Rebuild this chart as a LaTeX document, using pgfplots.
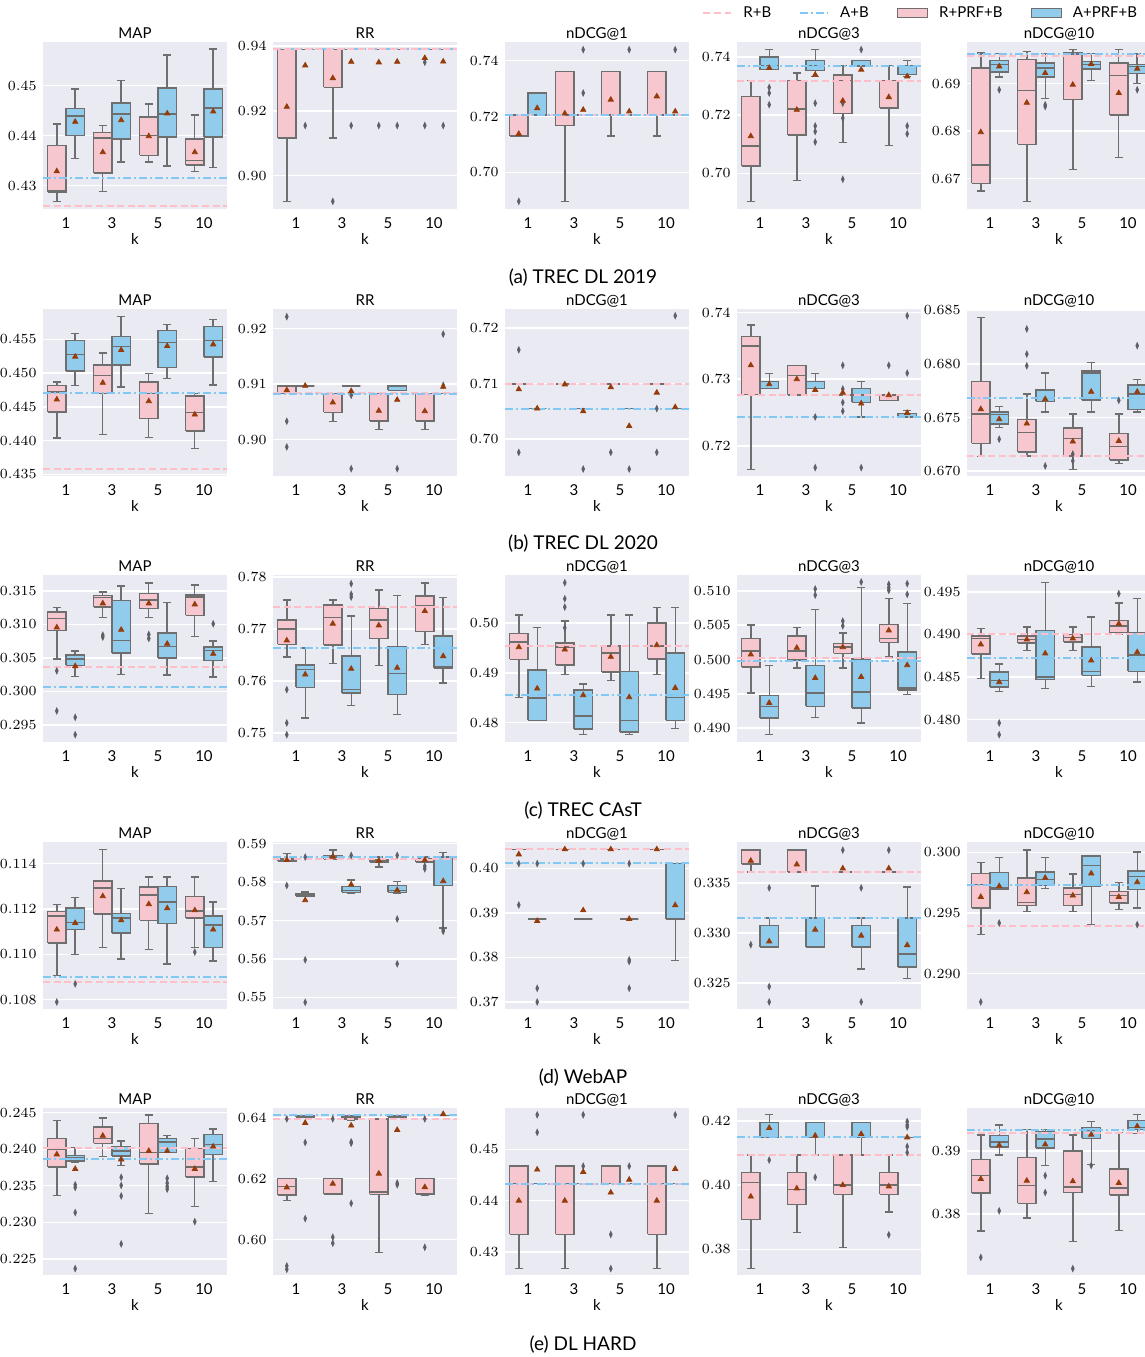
\documentclass[border=0pt]{standalone}
\usepackage{fontspec}
\setsansfont{Lato}
\usepackage{pgfplots}
\pgfplotsset{compat=1.18}
\definecolor{bgc}{RGB}{234,234,242}
\definecolor{pinkbox}{RGB}{246,199,207}
\definecolor{bluebox}{RGB}{146,204,236}
\definecolor{pinkl}{RGB}{255,190,200}
\definecolor{bluel}{RGB}{130,200,245}
\definecolor{edgec}{RGB}{110,110,110}
\definecolor{meanc}{RGB}{150,60,10}
\definecolor{outc}{RGB}{95,95,105}
\newcommand{\fs}{\fontsize{7.5}{8}\selectfont}
\pgfplotsset{
 sub/.style={scale only axis, width=92pt, height=83.5pt, anchor=south west,
   xmin=-0.5, xmax=3.5, xtick={0,1,2,3}, xticklabels={1,3,5,10},
   axis background/.style={fill=bgc}, axis line style={draw=none}, tick style={draw=none}, major tick length=0pt,
   ymajorgrids, grid style={white, line width=0.7pt},
   xlabel={k}, xlabel style={font=\sffamily\fs, inner sep=0pt, at={(axis description cs:0.5,0)}, anchor=north, yshift=-12pt},
   xticklabel style={font=\sffamily\fs, inner sep=0pt}, xticklabel shift=4pt,
   yticklabel style={font=\fs, inner sep=0pt}, yticklabel shift=3pt,
   every axis title shift=0pt,
   title style={font=\sffamily\fs, inner sep=0pt, at={(0.5,1)}, anchor=base, yshift=1.8pt},
   unbounded coords=jump,
 },
 yp/.style={yticklabel style={/pgf/number format/.cd, fixed, fixed zerofill, precision=#1}},
 boxln/.style={draw=edgec, line width=0.7pt, solid, mark=none},
 pline/.style={pinkl, line width=1pt, dash pattern=on 3.5pt off 1.8pt},
 bline/.style={bluel, line width=1pt, dash pattern=on 4pt off 1.5pt on 1pt off 1.5pt},
 meanst/.style={only marks, mark=triangle*, mark size=1.5pt, color=meanc},
 outst/.style={only marks, mark=diamond*, mark size=1.5pt, color=outc, mark options={xscale=0.6}},
 lleg/.style={legend image code/.code={\draw[##1] (0pt,0pt) -- (14pt,0pt);}},
 aleg/.style={legend image code/.code={\draw[##1] (0pt,-2.25pt) rectangle (15pt,2.25pt);}},
}
% #1 fill colour, #2 position, #3 lower whisker, #4 q1, #5 median, #6 q3, #7 upper whisker
\newcommand{\Bx}[7]{%
 \pgfmathsetmacro\bxL{#2-0.2}\pgfmathsetmacro\bxR{#2+0.2}%
 \pgfmathsetmacro\bcL{#2-0.09}\pgfmathsetmacro\bcR{#2+0.09}%
 \edef\bxtmp{%
 \noexpand\addplot[boxln] coordinates {(#2,#3)(#2,#4)(nan,nan)(#2,#6)(#2,#7)(nan,nan)(\bcL,#3)(\bcR,#3)(nan,nan)(\bcL,#7)(\bcR,#7)};
 \noexpand\addplot[boxln, fill=#1] coordinates {(\bxL,#4)(\bxR,#4)(\bxR,#6)(\bxL,#6)(\bxL,#4)};
 \noexpand\addplot[boxln] coordinates {(\bxL,#5)(\bxR,#5)};}\bxtmp}
\newcommand{\Pb}[6]{\Bx{pinkbox}{#1}{#2}{#3}{#4}{#5}{#6}}
\newcommand{\Bb}[6]{\Bx{bluebox}{#1}{#2}{#3}{#4}{#5}{#6}}
\newcommand{\Pf}[2]{\Pb{#1}{#2}{#2}{#2}{#2}{#2}}
\newcommand{\Bf}[2]{\Bb{#1}{#2}{#2}{#2}{#2}{#2}}
\newcommand{\hlP}[1]{\addplot[pline] coordinates {(-0.5,#1)(3.5,#1)};}
\newcommand{\hlB}[1]{\addplot[bline] coordinates {(-0.5,#1)(3.5,#1)};}
\newcommand{\Mn}[8]{\addplot[meanst] coordinates {(-0.2,#1)(0.2,#2)(0.8,#3)(1.2,#4)(1.8,#5)(2.2,#6)(2.8,#7)(3.2,#8)};}
\newcommand{\Ou}[1]{\addplot[outst] coordinates {#1};}
\begin{document}
\begin{tikzpicture}
%%%%%%%%%%%%%%%% ROW 1
\begin{axis}[sub, at={(21.5pt,-104.5pt)}, title={MAP}, ymin=0.42532, ymax=0.45876, ytick={0.43,0.44,0.45}, yp=2]
\Pb{-0.2}{0.42686}{0.42873}{0.42893}{0.43803}{0.44231}
\Bb{0.2}{0.43542}{0.44003}{0.44391}{0.44545}{0.44933}
\Pb{0.8}{0.4288}{0.43254}{0.43957}{0.4407}{0.44204}
\Bb{1.2}{0.43475}{0.4393}{0.44431}{0.44652}{0.451}
\Pb{1.8}{0.43475}{0.43609}{0.44003}{0.44378}{0.44632}
\Bb{2.2}{0.43395}{0.43977}{0.44431}{0.44953}{0.45615}
\Pb{2.8}{0.43288}{0.43415}{0.43502}{0.4393}{0.44411}
\Bb{3.2}{0.43368}{0.43977}{0.44552}{0.44933}{0.45736}
\hlB{0.4316}\hlP{0.42585}
\Mn{0.43288}{0.44278}{0.43669}{0.44311}{0.4399}{0.44445}{0.43669}{0.44485}
\end{axis}
\begin{axis}[sub, at={(136.5pt,-104.5pt)}, title={RR}, ymin=0.8897, ymax=0.94124, ytick={0.90,0.92,0.94}, yp=2]
\Pb{-0.2}{0.89206}{0.91165}{0.939}{0.939}{0.939}
\Bf{0.2}{0.939}
\Pb{0.8}{0.91165}{0.92722}{0.939}{0.939}{0.939}
\Bf{1.2}{0.939}\Pf{1.8}{0.939}\Bf{2.2}{0.939}\Pf{2.8}{0.939}\Bf{3.2}{0.939}
\hlB{0.93907}\hlP{0.93897}
\Ou{(0.2,0.91546)(0.8,0.89206)(1.2,0.91546)(1.8,0.91546)(2.2,0.91546)(2.8,0.91546)(2.8,0.935)(3.2,0.91546)}
\Mn{0.92124}{0.9340}{0.9301}{0.93515}{0.93495}{0.93515}{0.93629}{0.9352}
\end{axis}
\begin{axis}[sub, at={(252.5pt,-104.5pt)}, title={nDCG@1}, ymin=0.68693, ymax=0.74663, ytick={0.70,0.72,0.74}, yp=2]
\Pb{-0.2}{0.713}{0.713}{0.713}{0.7206}{0.7206}
\Bb{0.2}{0.7206}{0.7206}{0.7206}{0.72836}{0.72836}
\Pb{0.8}{0.6897}{0.71678}{0.7206}{0.73612}{0.73612}
\Bf{1.2}{0.7206}
\Pb{1.8}{0.713}{0.7206}{0.7206}{0.73612}{0.73612}
\Bf{2.2}{0.7206}
\Pb{2.8}{0.713}{0.7206}{0.7206}{0.73612}{0.73612}
\Bf{3.2}{0.7206}
\hlP{0.7207}\hlB{0.7205}
\Ou{(-0.2,0.68967)(1.2,0.7439)(1.2,0.7284)(2.2,0.7439)(3.2,0.7439)}
\Mn{0.71379}{0.72299}{0.72107}{0.7224}{0.726}{0.7218}{0.7272}{0.7218}
\end{axis}
\begin{axis}[sub, at={(368.5pt,-104.5pt)}, title={nDCG@3}, ymin=0.6878, ymax=0.7451, ytick={0.70,0.72,0.74}, yp=2]
\Pb{-0.2}{0.69043}{0.70258}{0.70946}{0.72642}{0.7318}
\Bb{0.2}{0.7356}{0.7356}{0.737}{0.7399}{0.7425}
\Pb{0.8}{0.69765}{0.71324}{0.72218}{0.7318}{0.73444}
\Bb{1.2}{0.7333}{0.73524}{0.737}{0.73868}{0.74246}
\Pb{1.8}{0.7106}{0.72057}{0.7318}{0.73375}{0.737}
\Bb{2.2}{0.7367}{0.7367}{0.737}{0.7388}{0.7388}
\Pb{2.8}{0.70957}{0.7224}{0.7224}{0.7318}{0.737}
\Bb{3.2}{0.7333}{0.7339}{0.7339}{0.737}{0.7387}
\hlB{0.737}\hlP{0.7318}
\Ou{(0.2,0.7295)(0.2,0.7276)(0.2,0.7236)(1.2,0.7241)(1.2,0.7163)(1.2,0.7144)(1.2,0.7108)(1.8,0.7241)(1.8,0.719)(1.8,0.698)(2.2,0.7425)(3.2,0.7163)(3.2,0.7136)}
\Mn{0.71278}{0.7362}{0.72183}{0.73387}{0.72493}{0.7356}{0.72619}{0.7333}
\end{axis}
\begin{axis}[sub, at={(483.5pt,-104.5pt)}, title={nDCG@10}, ymin=0.66359, ymax=0.6988, ytick={0.67,0.68,0.69}, yp=2,
  legend columns=4, legend style={at={(-1.4402,1.1719)}, anchor=west, draw=none, fill=none, inner sep=0pt, font=\sffamily\fs, nodes={inner sep=0pt}, /tikz/every odd column/.append style={column sep=5.5pt}, /tikz/every even column/.append style={column sep=14pt}}, legend cell align=left]
\addlegendimage{pline, lleg}\addlegendentry{R+B}
\addlegendimage{bline, lleg}\addlegendentry{A+B}
\addlegendimage{aleg, fill=pinkbox, draw=edgec, line width=0.7pt}\addlegendentry{R+PRF+B}
\addlegendimage{aleg, fill=bluebox, draw=edgec, line width=0.7pt}\addlegendentry{A+PRF+B}
\Pb{-0.2}{0.6674}{0.66901}{0.67289}{0.69331}{0.69648}
\Bb{0.2}{0.6914}{0.69246}{0.69401}{0.69486}{0.69634}
\Pb{0.8}{0.66514}{0.67725}{0.68852}{0.69507}{0.69683}
\Bb{1.2}{0.68683}{0.6914}{0.69331}{0.69437}{0.69634}
\Pb{1.8}{0.67197}{0.68662}{0.69613}{0.69648}{0.69718}
\Bb{2.2}{0.6907}{0.6931}{0.69401}{0.69472}{0.69634}
\Pb{2.8}{0.67451}{0.68338}{0.69169}{0.69437}{0.69718}
\Bb{3.2}{0.69}{0.69211}{0.69366}{0.69401}{0.69634}
\hlB{0.69634}\hlP{0.69577}
\Ou{(0.2,0.68873)(1.2,0.68556)(1.2,0.6852)(3.2,0.68873)}
\Mn{0.67979}{0.69366}{0.68599}{0.69225}{0.68979}{0.69415}{0.68803}{0.69317}
\end{axis}
%%%%%%%%%%%%%%%% ROW 2
\begin{axis}[sub, at={(21.5pt,-238pt)}, title={MAP}, ymin=0.43475, ymax=0.4595, ytick={0.435,0.44,0.445,0.45,0.455}, yp=3]
\Pb{-0.2}{0.4404}{0.44421}{0.44723}{0.44817}{0.44871}
\Bb{0.2}{0.44812}{0.4503}{0.45277}{0.4548}{0.45584}
\Pb{0.8}{0.4409}{0.44698}{0.44965}{0.45119}{0.45297}
\Bb{1.2}{0.44792}{0.45119}{0.45391}{0.4554}{0.45837}
\Pb{1.8}{0.4405}{0.44327}{0.447}{0.44871}{0.4499}
\Bb{2.2}{0.44916}{0.45079}{0.45455}{0.45634}{0.45718}
\Pb{2.8}{0.43881}{0.44144}{0.44416}{0.44663}{0.44698}
\Bb{3.2}{0.44822}{0.45238}{0.4548}{0.45688}{0.45797}
\hlB{0.44698}\hlP{0.43584}
\Mn{0.44609}{0.45243}{0.44856}{0.45342}{0.44584}{0.45401}{0.44386}{0.45426}
\end{axis}
\begin{axis}[sub, at={(136.5pt,-238pt)}, title={RR}, ymin=0.89348, ymax=0.92351, ytick={0.90,0.91,0.92}, yp=2]
\Pb{-0.2}{0.9083}{0.9083}{0.9097}{0.9097}{0.9097}
\Bf{0.2}{0.9097}
\Pb{0.8}{0.90333}{0.90495}{0.9083}{0.9083}{0.9083}
\Bf{1.2}{0.9097}
\Pb{1.8}{0.90189}{0.90339}{0.9083}{0.9083}{0.9083}
\Bb{2.2}{0.9089}{0.9089}{0.9089}{0.9097}{0.9097}
\Pb{2.8}{0.90189}{0.90339}{0.9083}{0.9083}{0.9083}
\Bf{3.2}{0.9083}
\hlP{0.9084}\hlB{0.9082}
\Ou{(-0.2,0.92213)(-0.2,0.90333)(-0.2,0.89871)(1.2,0.908)(1.2,0.8948)(2.2,0.8948)(3.2,0.919)(3.2,0.9098)}
\Mn{0.90892}{0.9097}{0.9067}{0.90874}{0.9052}{0.90718}{0.90514}{0.90952}
\end{axis}
\begin{axis}[sub, at={(252.5pt,-238pt)}, title={nDCG@1}, ymin=0.69334, ymax=0.72343, ytick={0.70,0.71,0.72}, yp=2]
\Pf{-0.2}{0.7099}\Bf{0.2}{0.7055}\Pf{0.8}{0.7099}\Bf{1.2}{0.7055}
\Pf{1.8}{0.7099}\Bf{2.2}{0.7055}\Pf{2.8}{0.7099}\Bf{3.2}{0.7055}
\hlP{0.7099}\hlB{0.7055}
\Ou{(-0.2,0.71608)(-0.2,0.6976)(1.2,0.6946)(1.8,0.6976)(2.2,0.6946)(2.8,0.7055)(2.8,0.6976)(3.2,0.72222)}
\Mn{0.70897}{0.7055}{0.70985}{0.705}{0.70933}{0.70234}{0.70836}{0.70574}
\end{axis}
\begin{axis}[sub, at={(368.5pt,-238pt)}, title={nDCG@3}, ymin=0.71547, ymax=0.74053, ytick={0.72,0.73,0.74}, yp=2]
\Pb{-0.2}{0.71648}{0.72772}{0.73496}{0.73638}{0.73815}
\Bb{0.2}{0.72863}{0.72863}{0.72863}{0.72965}{0.73081}
\Pb{0.8}{0.7276}{0.7276}{0.73056}{0.73203}{0.73203}
\Bb{1.2}{0.72863}{0.72863}{0.72965}{0.72965}{0.73081}
\Pf{1.8}{0.7276}
\Bb{2.2}{0.72433}{0.72651}{0.7276}{0.72863}{0.72965}
\Pb{2.8}{0.72676}{0.72676}{0.7276}{0.7276}{0.7276}
\Bb{3.2}{0.72433}{0.72433}{0.72433}{0.72484}{0.72534}
\hlP{0.72762}\hlB{0.72433}
\Ou{(1.2,0.72433)(1.2,0.71673)(1.8,0.73208)(1.8,0.72853)(1.8,0.7265)(1.8,0.7252)(2.2,0.71673)(2.8,0.73208)(3.2,0.73952)(3.2,0.73091)}
\Mn{0.73208}{0.72924}{0.73}{0.72838}{0.72797}{0.72635}{0.7276}{0.72494}
\end{axis}
\begin{axis}[sub, at={(483.5pt,-238pt)}, title={nDCG@10}, ymin=0.66955, ymax=0.68511, ytick={0.67,0.675,0.68,0.685}, yp=3]
\Pb{-0.2}{0.67136}{0.6726}{0.67534}{0.67833}{0.68433}
\Bb{0.2}{0.67407}{0.67438}{0.6753}{0.67553}{0.676}
\Pb{0.8}{0.67142}{0.6718}{0.6736}{0.67484}{0.67718}
\Bb{1.2}{0.67553}{0.67652}{0.67652}{0.67758}{0.67914}
\Pb{1.8}{0.67018}{0.67142}{0.67304}{0.67404}{0.67531}
\Bb{2.2}{0.67553}{0.67665}{0.67914}{0.67932}{0.68013}
\Pb{2.8}{0.67074}{0.67105}{0.67229}{0.67351}{0.67531}
\Bb{3.2}{0.67553}{0.67572}{0.67718}{0.67802}{0.67852}
\hlB{0.6768}\hlP{0.67142}
\Ou{(0.2,0.67298)(0.8,0.68325)(0.8,0.68091)(0.8,0.67982)(1.2,0.67049)(1.8,0.6716)(1.8,0.67096)(2.8,0.6766)(3.2,0.68169)}
\Mn{0.67578}{0.67484}{0.67444}{0.67671}{0.67276}{0.6774}{0.67282}{0.6774}
\end{axis}
%%%%%%%%%%%%%%%% ROW 3
\begin{axis}[sub, at={(21.5pt,-371pt)}, title={MAP}, ymin=0.29244, ymax=0.31738, ytick={0.295,0.3,0.305,0.31,0.315}, yp=3]
\Pb{-0.2}{0.30481}{0.30905}{0.3109}{0.31185}{0.31249}
\Bb{0.2}{0.30222}{0.30387}{0.30486}{0.30546}{0.30601}
\Pb{0.8}{0.3110}{0.31259}{0.31399}{0.31434}{0.31484}
\Bb{1.2}{0.30252}{0.30576}{0.30761}{0.31359}{0.31574}
\Pb{1.8}{0.311}{0.31234}{0.31364}{0.31459}{0.31618}
\Bb{2.2}{0.30242}{0.30501}{0.30666}{0.3087}{0.31324}
\Pb{2.8}{0.3082}{0.31135}{0.31409}{0.31439}{0.31589}
\Bb{3.2}{0.30212}{0.30461}{0.30611}{0.30661}{0.30751}
\hlP{0.30362}\hlB{0.30072}
\Ou{(-0.2,0.30307)(-0.2,0.29708)(0.2,0.29613)(0.2,0.29354)(0.8,0.3084)(0.8,0.3081)(1.8,0.3085)(1.8,0.3079)(3.2,0.3101)}
\Mn{0.30955}{0.30377}{0.31314}{0.3092}{0.31314}{0.30711}{0.31299}{0.30561}
\end{axis}
\begin{axis}[sub, at={(136.5pt,-371pt)}, title={RR}, ymin=0.74829, ymax=0.7804, ytick={0.75,0.76,0.77,0.78}, yp=2]
\Pb{-0.2}{0.76467}{0.76705}{0.77}{0.77173}{0.77559}
\Bb{0.2}{0.75292}{0.75882}{0.76223}{0.76306}{0.7664}
\Pb{0.8}{0.76338}{0.76692}{0.77218}{0.77462}{0.77559}
\Bb{1.2}{0.75529}{0.75773}{0.75837}{0.76486}{0.7725}
\Pb{1.8}{0.763}{0.76814}{0.77173}{0.77392}{0.77751}
\Bb{2.2}{0.75356}{0.75741}{0.76152}{0.76666}{0.77642}
\Pb{2.8}{0.76705}{0.76949}{0.77456}{0.77636}{0.77886}
\Bb{3.2}{0.75966}{0.76255}{0.76274}{0.76865}{0.77604}
\hlP{0.77417}\hlB{0.7664}
\Ou{(-0.2,0.75837)(-0.2,0.75195)(-0.2,0.7497)(1.2,0.77617)(1.2,0.7767)(1.2,0.77873)}
\Mn{0.76782}{0.76127}{0.77103}{0.76236}{0.77071}{0.76255}{0.77347}{0.7648}
\end{axis}
\begin{axis}[sub, at={(252.5pt,-371pt)}, title={nDCG@1}, ymin=0.47615, ymax=0.5096, ytick={0.48,0.49,0.50}, yp=2]
\Pb{-0.2}{0.48512}{0.49268}{0.49622}{0.49783}{0.50157}
\Bb{0.2}{0.4805}{0.4805}{0.48498}{0.4906}{0.49903}
\Pb{0.8}{0.48967}{0.49154}{0.49515}{0.49602}{0.50037}
\Bb{1.2}{0.47763}{0.47876}{0.48137}{0.48659}{0.48779}
\Pb{1.8}{0.48853}{0.4902}{0.49401}{0.49535}{0.50157}
\Bb{2.2}{0.47763}{0.47816}{0.4805}{0.49033}{0.50157}
\Pb{2.8}{0.48967}{0.49281}{0.49535}{0.49997}{0.50304}
\Bb{3.2}{0.47883}{0.4805}{0.48512}{0.49395}{0.50304}
\hlP{0.49535}\hlB{0.48552}
\Ou{(0.8,0.49903)(0.8,0.50318)(0.8,0.50485)(0.8,0.50806)}
\Mn{0.49515}{0.48686}{0.49468}{0.48552}{0.49321}{0.48512}{0.49555}{0.48699}
\end{axis}
\begin{axis}[sub, at={(368.5pt,-371pt)}, title={nDCG@3}, ymin=0.48798, ymax=0.51231, ytick={0.49,0.495,0.5,0.505,0.51}, yp=3]
\Pb{-0.2}{0.49513}{0.49893}{0.50122}{0.50307}{0.50501}
\Bb{0.2}{0.48905}{0.49148}{0.49319}{0.49479}{0.49917}
\Pb{0.8}{0.49878}{0.49995}{0.50122}{0.50345}{0.50462}
\Bb{1.2}{0.49158}{0.49319}{0.49513}{0.49917}{0.50725}
\Pb{1.8}{0.49878}{0.50088}{0.5018}{0.50229}{0.50384}
\Bb{2.2}{0.49075}{0.49294}{0.49528}{0.5001}{0.51046}
\Pb{2.8}{0.50039}{0.50248}{0.50307}{0.50511}{0.50886}
\Bb{3.2}{0.49489}{0.49557}{0.49586}{0.50112}{0.50813}
\hlP{0.50019}\hlB{0.49976}
\Ou{(1.2,0.51027)(1.2,0.50939)(1.8,0.5056)(1.8,0.50491)(2.2,0.51129)(2.8,0.51095)(2.8,0.51046)(2.8,0.51007)(3.2,0.51105)(3.2,0.50949)}
\Mn{0.50073}{0.49367}{0.5017}{0.49732}{0.5018}{0.49747}{0.50423}{0.49917}
\end{axis}
\begin{axis}[sub, at={(483.5pt,-371pt)}, title={nDCG@10}, ymin=0.47739, ymax=0.49697, ytick={0.48,0.485,0.49,0.495}, yp=3]
\Pb{-0.2}{0.48483}{0.48773}{0.48953}{0.4898}{0.4907}
\Bb{0.2}{0.48334}{0.48385}{0.4846}{0.48561}{0.48655}
\Pb{0.8}{0.48812}{0.48902}{0.48941}{0.4898}{0.49086}
\Bb{1.2}{0.48366}{0.48471}{0.48499}{0.49047}{0.49607}
\Pb{1.8}{0.48812}{0.4891}{0.48961}{0.49}{0.49086}
\Bb{2.2}{0.48393}{0.48522}{0.48569}{0.48851}{0.49204}
\Pb{2.8}{0.49}{0.4902}{0.49098}{0.49164}{0.49368}
\Bb{3.2}{0.48444}{0.48569}{0.48757}{0.4902}{0.49423}
\hlP{0.49}\hlB{0.48726}
\Ou{(0.2,0.47962)(0.2,0.47825)(2.8,0.49478)}
\Mn{0.48883}{0.4844}{0.48941}{0.48777}{0.48953}{0.48695}{0.49125}{0.48792}
\end{axis}
%%%%%%%%%%%%%%%% ROW 4
\begin{axis}[sub, at={(21.5pt,-504.5pt)}, title={MAP}, ymin=0.10759, ymax=0.11495, ytick={0.108,0.11,0.112,0.114}, yp=3]
\Pb{-0.2}{0.10908}{0.1105}{0.11169}{0.1119}{0.11219}
\Bb{0.2}{0.1100}{0.1111}{0.1114}{0.11204}{0.1125}
\Pb{0.8}{0.1103}{0.11178}{0.11293}{0.11324}{0.11461}
\Bb{1.2}{0.10979}{0.11094}{0.1116}{0.11179}{0.1129}
\Pb{1.8}{0.1102}{0.1115}{0.11262}{0.11296}{0.11341}
\Bb{2.2}{0.10958}{0.11135}{0.11231}{0.1130}{0.11341}
\Pb{2.8}{0.1103}{0.1116}{0.11191}{0.11255}{0.11341}
\Bb{3.2}{0.1097}{0.1103}{0.11129}{0.11169}{0.11231}
\hlB{0.10902}\hlP{0.1088}
\Ou{(-0.2,0.1079)(0.2,0.1087)(2.8,0.1101)}
\Mn{0.11109}{0.11138}{0.11256}{0.1115}{0.11221}{0.11203}{0.11194}{0.11109}
\end{axis}
\begin{axis}[sub, at={(136.5pt,-504.5pt)}, title={RR}, ymin=0.54697, ymax=0.59046, ytick={0.55,0.56,0.57,0.58,0.59}, yp=2]
\Pb{-0.2}{0.5855}{0.5855}{0.58575}{0.5861}{0.5874}
\Bb{0.2}{0.57643}{0.57643}{0.57669}{0.57704}{0.57747}
\Pb{0.8}{0.58593}{0.58593}{0.58654}{0.58697}{0.58837}
\Bb{1.2}{0.57704}{0.57739}{0.57791}{0.57895}{0.5806}
\Pb{1.8}{0.58392}{0.58523}{0.5855}{0.58593}{0.58654}
\Bb{2.2}{0.57721}{0.57739}{0.57782}{0.57913}{0.58017}
\Pb{2.8}{0.58523}{0.58523}{0.5861}{0.5861}{0.58654}
\Bb{3.2}{0.56806}{0.57913}{0.57913}{0.58654}{0.58767}
\hlB{0.58654}\hlP{0.5861}
\Ou{(-0.2,0.57913)(0.2,0.58654)(0.2,0.55978)(0.2,0.54871)(1.2,0.58697)(2.2,0.58697)(2.2,0.57041)(2.2,0.55874)(2.8,0.58418)(2.8,0.58349)(3.2,0.56763)(3.2,0.5672)}
\Mn{0.58575}{0.5753}{0.58662}{0.57939}{0.58558}{0.57791}{0.58575}{0.58026}
\end{axis}
\begin{axis}[sub, at={(252.5pt,-504.5pt)}, title={nDCG@1}, ymin=0.36842, ymax=0.40594, ytick={0.37,0.38,0.39,0.40}, yp=2]
\Pf{-0.2}{0.4043}\Bf{0.2}{0.38865}\Pf{0.8}{0.4043}\Bf{1.2}{0.38865}
\Pf{1.8}{0.4043}\Bf{2.2}{0.38865}\Pf{2.8}{0.4043}
\Bb{3.2}{0.37932}{0.38865}{0.38865}{0.40113}{0.40113}
\hlP{0.40429}\hlB{0.40113}
\Ou{(-0.2,0.4011)(-0.2,0.3918)(0.2,0.4011)(0.2,0.37308)(0.2,0.37)(1.2,0.4011)(2.2,0.4011)(2.2,0.37947)(2.2,0.3791)(2.2,0.37308)}
\Mn{0.40316}{0.3882}{0.4043}{0.3906}{0.4043}{0.38865}{0.4043}{0.39173}
\end{axis}
\begin{axis}[sub, at={(368.5pt,-504.5pt)}, title={nDCG@3}, ymin=0.32238, ymax=0.33913, ytick={0.325,0.33,0.335}, yp=3]
\Pb{-0.2}{0.33614}{0.33688}{0.3370}{0.33832}{0.33832}
\Bb{0.2}{0.32859}{0.32859}{0.32859}{0.33074}{0.33151}
\Pb{0.8}{0.33614}{0.33614}{0.33614}{0.33832}{0.33832}
\Bb{1.2}{0.32859}{0.32859}{0.33151}{0.33151}{0.3347}
\Pf{1.8}{0.33614}
\Bb{2.2}{0.32638}{0.32859}{0.32859}{0.33074}{0.33151}
\Pf{2.8}{0.33614}
\Bb{3.2}{0.32547}{0.32658}{0.32789}{0.33151}{0.33463}
\hlP{0.33614}\hlB{0.33151}
\Ou{(-0.2,0.32883)(0.2,0.33453)(0.2,0.32463)(0.2,0.32309)(1.8,0.33832)(2.2,0.33453)(2.2,0.32309)(2.8,0.33832)}
\Mn{0.33725}{0.32916}{0.33688}{0.33034}{0.33648}{0.32973}{0.33648}{0.32879}
\end{axis}
\begin{axis}[sub, at={(483.5pt,-504.5pt)}, title={nDCG@10}, ymin=0.28709, ymax=0.30084, ytick={0.29,0.295,0.3}, yp=3]
\Pb{-0.2}{0.29321}{0.29541}{0.29734}{0.29825}{0.29913}
\Bb{0.2}{0.29693}{0.29693}{0.29707}{0.29831}{0.29955}
\Pb{0.8}{0.29514}{0.29561}{0.29588}{0.29789}{0.30018}
\Bb{1.2}{0.29701}{0.29726}{0.29775}{0.29836}{0.29955}
\Pb{1.8}{0.29514}{0.29561}{0.29652}{0.29707}{0.29822}
\Bb{2.2}{0.29404}{0.2972}{0.29891}{0.29968}{0.29968}
\Pb{2.8}{0.29528}{0.29583}{0.29643}{0.29679}{0.29753}
\Bb{3.2}{0.29541}{0.29693}{0.29798}{0.29844}{0.30001}
\hlB{0.29734}\hlP{0.29395}
\Ou{(-0.2,0.28767)(0.2,0.29417)(3.2,0.29404)}
\Mn{0.29632}{0.2972}{0.29671}{0.29789}{0.29643}{0.29825}{0.29632}{0.29753}
\end{axis}
%%%%%%%%%%%%%%%% ROW 5
\begin{axis}[sub, at={(21.5pt,-637.5pt)}, title={MAP}, ymin=0.22278, ymax=0.24565, ytick={0.225,0.23,0.235,0.24,0.245}, yp=3]
\Pb{-0.2}{0.2337}{0.23759}{0.24}{0.24148}{0.24398}
\Bb{0.2}{0.23824}{0.23838}{0.23884}{0.23917}{0.24023}
\Pb{0.8}{0.23898}{0.24083}{0.24148}{0.24306}{0.2443}
\Bb{1.2}{0.23778}{0.23907}{0.23977}{0.24037}{0.24111}
\Pb{1.8}{0.2312}{0.23801}{0.23954}{0.24356}{0.24472}
\Bb{2.2}{0.23954}{0.23954}{0.24102}{0.24148}{0.24185}
\Pb{2.8}{0.23213}{0.2362}{0.23755}{0.24014}{0.24148}
\Bb{3.2}{0.2356}{0.23926}{0.24069}{0.24204}{0.24278}
\hlP{0.24019}\hlB{0.2387}
\Ou{(0.2,0.23514)(0.2,0.23477)(0.2,0.23134)(0.2,0.22366)(1.2,0.23616)(1.2,0.23505)(1.2,0.23361)(1.2,0.22704)(2.2,0.23602)(2.2,0.23537)(2.2,0.23491)(2.2,0.23454)(2.8,0.23009)}
\Mn{0.2393}{0.23731}{0.24185}{0.23861}{0.23977}{0.23977}{0.23731}{0.24037}
\end{axis}
\begin{axis}[sub, at={(136.5pt,-637.5pt)}, title={RR}, ymin=0.58842, ymax=0.64316, ytick={0.60,0.62,0.64}, yp=2]
\Pb{-0.2}{0.6128}{0.61468}{0.61745}{0.62}{0.62}
\Bb{0.2}{0.64017}{0.64017}{0.64045}{0.64072}{0.64072}
\Pb{0.8}{0.61501}{0.61501}{0.61501}{0.62}{0.62}
\Bb{1.2}{0.63906}{0.63961}{0.64017}{0.64072}{0.64072}
\Pb{1.8}{0.59584}{0.6149}{0.61568}{0.6396}{0.6396}
\Bb{2.2}{0.64017}{0.64017}{0.64045}{0.64072}{0.64072}
\Pb{2.8}{0.61446}{0.61501}{0.61501}{0.62}{0.62}
\Bf{3.2}{0.6407}
\hlB{0.64072}\hlP{0.63961}
\Ou{(-0.2,0.6396)(-0.2,0.59141)(-0.2,0.5903)(0.2,0.63186)(0.2,0.60693)(0.8,0.6396)(0.8,0.60083)(0.8,0.59884)(1.2,0.63208)(1.2,0.63163)(1.2,0.61191)(2.2,0.61856)(2.2,0.61801)(2.8,0.6396)(2.8,0.59751)}
\Mn{0.61712}{0.63828}{0.61834}{0.6374}{0.62166}{0.63596}{0.61723}{0.64116}
\end{axis}
\begin{axis}[sub, at={(252.5pt,-637.5pt)}, title={nDCG@1}, ymin=0.42553, ymax=0.45803, ytick={0.43,0.44,0.45}, yp=2]
\Pb{-0.2}{0.42678}{0.43342}{0.4433}{0.44671}{0.44671}
\Bf{0.2}{0.4433}
\Pb{0.8}{0.42678}{0.43342}{0.4433}{0.44671}{0.44671}
\Bf{1.2}{0.4433}
\Pb{1.8}{0.4433}{0.4433}{0.4433}{0.44671}{0.44671}
\Bf{2.2}{0.4433}
\Pb{2.8}{0.42678}{0.43342}{0.4433}{0.44671}{0.44671}
\Bf{3.2}{0.4433}
\hlP{0.4433}\hlB{0.4433}
\Ou{(0.2,0.45671)(0.2,0.45329)(1.2,0.45671)(1.2,0.44671)(1.8,0.43342)(1.8,0.42678)(2.2,0.44671)(3.2,0.45671)}
\Mn{0.44}{0.44605}{0.44}{0.44559}{0.44158}{0.44408}{0.44}{0.44618}
\end{axis}
\begin{axis}[sub, at={(368.5pt,-637.5pt)}, title={nDCG@3}, ymin=0.372, ymax=0.424, ytick={0.38,0.40,0.42}, yp=2]
\Pb{-0.2}{0.374}{0.38926}{0.40074}{0.404}{0.40937}
\Bb{0.2}{0.41484}{0.41484}{0.41484}{0.41958}{0.42189}
\Pb{0.8}{0.38526}{0.3939}{0.39863}{0.404}{0.40937}
\Bb{1.2}{0.40937}{0.41484}{0.41484}{0.41958}{0.41958}
\Pb{1.8}{0.38063}{0.39716}{0.4}{0.40937}{0.40937}
\Bb{2.2}{0.40937}{0.41484}{0.41484}{0.41958}{0.41958}
\Pb{2.8}{0.39158}{0.39716}{0.4}{0.404}{0.40937}
\Bf{3.2}{0.41484}
\hlB{0.41484}\hlP{0.40937}
\Ou{(0.2,0.40779)(1.2,0.40242)(2.8,0.38453)(3.2,0.41979)(3.2,0.41874)(3.2,0.41811)(3.2,0.412)(3.2,0.41011)}
\Mn{0.39642}{0.41779}{0.39895}{0.41537}{0.4}{0.41589}{0.39958}{0.41484}
\end{axis}
\begin{axis}[sub, at={(483.5pt,-637.5pt)}, title={nDCG@10}, ymin=0.37037, ymax=0.39679, ytick={0.38,0.39}, yp=2]
\Pb{-0.2}{0.37733}{0.38332}{0.3861}{0.38866}{0.39251}
\Bb{0.2}{0.38936}{0.39064}{0.39144}{0.39241}{0.39412}
\Pb{0.8}{0.37941}{0.38171}{0.38449}{0.38893}{0.39337}
\Bb{1.2}{0.3877}{0.39048}{0.39187}{0.39305}{0.39337}
\Pb{1.8}{0.37567}{0.38342}{0.38428}{0.39}{0.39251}
\Bb{2.2}{0.38781}{0.39198}{0.3932}{0.39374}{0.39465}
\Pb{2.8}{0.37743}{0.38305}{0.38412}{0.38717}{0.39294}
\Bb{3.2}{0.39278}{0.39337}{0.3937}{0.39481}{0.39572}
\hlB{0.39337}\hlP{0.39283}
\Ou{(-0.2,0.37316)(0.2,0.38053)(1.2,0.3861)(1.2,0.38342)(1.8,0.37139)(2.2,0.3877)}
\Mn{0.38556}{0.39091}{0.38529}{0.39102}{0.38519}{0.39257}{0.38492}{0.3939}
\end{axis}
%%%%%%%%%%%%%%%% captions
\begin{scope}[every node/.style={font=\sffamily\fontsize{9.5}{11}\selectfont}]
\node at (291.5pt,-139pt) {(a) TREC DL 2019};
\node at (291.5pt,-272pt) {(b) TREC DL 2020};
\node at (291.5pt,-405.5pt) {(c) TREC CAsT};
\node at (291.5pt,-539pt) {(d) WebAP};
\node at (291.5pt,-672.5pt) {(e) DL HARD};
\end{scope}
\pgfresetboundingbox
\useasboundingbox (0pt,0pt) rectangle (572.5pt,-678.5pt);
\end{tikzpicture}
\end{document}
